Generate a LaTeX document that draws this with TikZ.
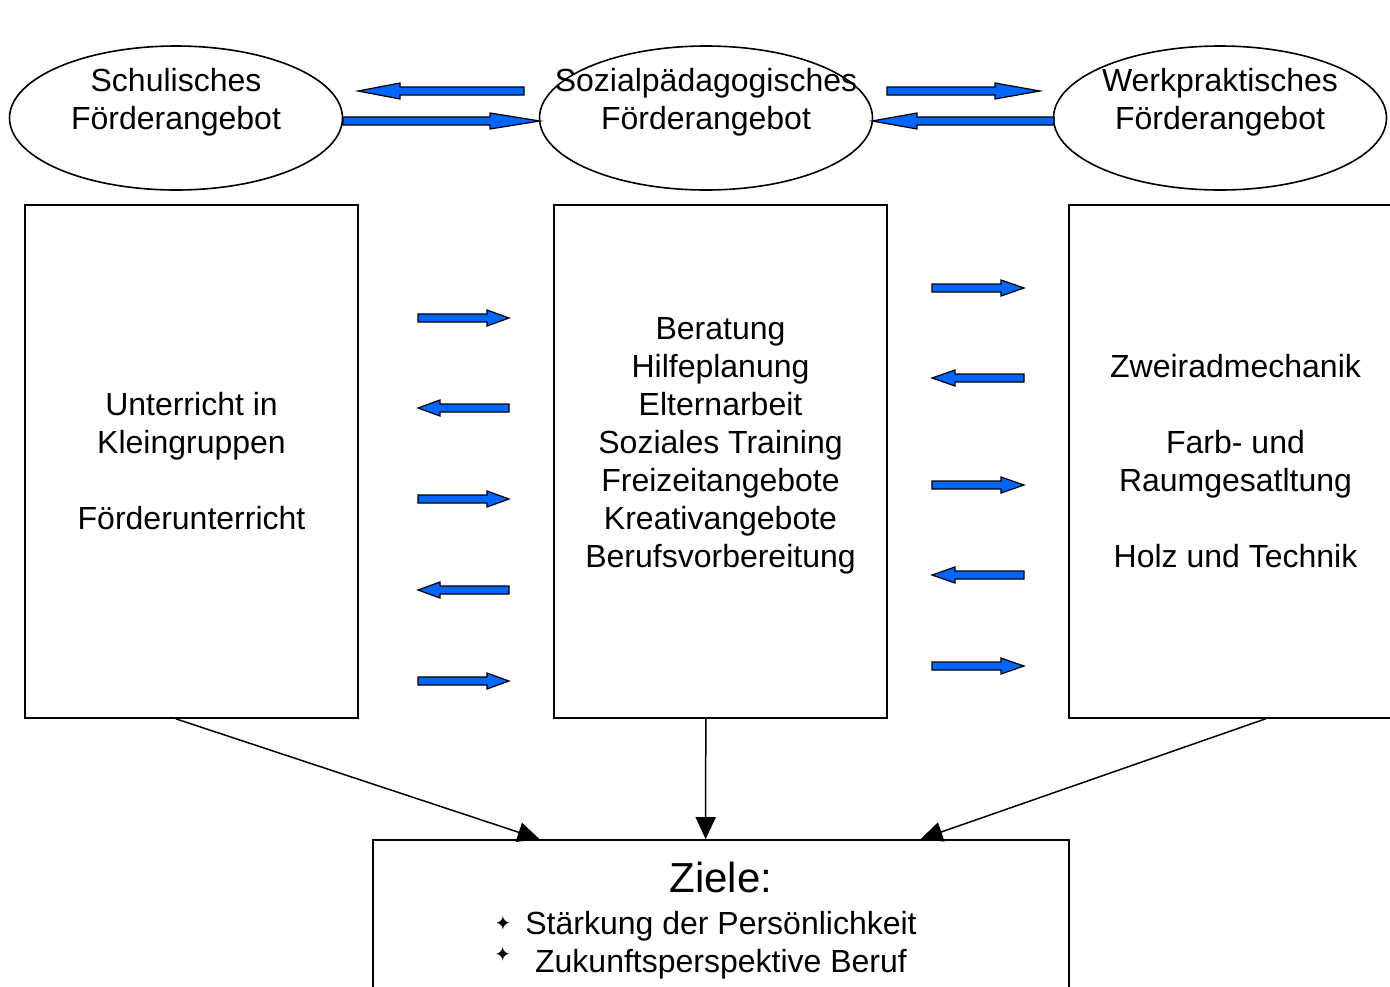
\documentclass[tikz,border=0pt]{standalone}
\usepackage{fontspec}
\setmainfont{Liberation Sans}
\newfontfamily\symfont{DejaVu Sans}
\usetikzlibrary{shapes.geometric,arrows.meta,calc}

\definecolor{arrowblue}{RGB}{0,102,255}

\newcommand{\zbul}{{\symfont\fontsize{10}{10}\selectfont ✦}}

% block arrow: tail x, tip x, y, head length, direction (+1 right, -1 left)
\newcommand{\fatarrow}[5]{%
  \filldraw[blockarrow] (#1,{#3-4}) -- ({#2-(#5)*(#4)},{#3-4}) -- ({#2-(#5)*(#4)},{#3-8})
    -- (#2,#3) -- ({#2-(#5)*(#4)},{#3+8}) -- ({#2-(#5)*(#4)},{#3+4}) -- (#1,{#3+4}) -- cycle;}

\begin{document}
\begin{tikzpicture}[
  x=0.5pt, y=-0.5pt,
  oval/.style={ellipse, draw, line width=0.8pt, minimum width=166.5pt, minimum height=72pt, inner sep=0pt},
  ovaltext/.style={align=center, inner sep=0pt, font=\fontsize{16}{19}\selectfont},
  box/.style={rectangle, draw, line width=0.8pt, minimum width=166.5pt, minimum height=256.5pt, inner sep=0pt, align=center, font=\fontsize{16}{19}\selectfont},
  blockarrow/.style={draw=black, line width=0.6pt, fill=arrowblue, line join=miter},
  arrow/.style={-{Triangle[length=11pt,width=10pt]}, line width=0.75pt},
]
\useasboundingbox (0,0) rectangle (1390,986);

% === ANGEBOTE ===
\node[oval] (schul) at (176,118) {};
\node[oval] (sozial) at (706,118) {};
\node[oval] (werk) at (1220,118) {};
\node[ovaltext] (schultxt) at (schul) {Schulisches\\Förderangebot\\\mbox{}};
\node[ovaltext] (sozialtxt) at (sozial) {Sozialpädagogisches\\Förderangebot\\\mbox{}};
\node[ovaltext] (werktxt) at (werk) {Werkpraktisches\\Förderangebot\\\mbox{}};

\node[box] (unt) at (191.5,461.5) {Unterricht in\\Kleingruppen\\\mbox{}\\Förderunterricht};
\node[box] (ber) at (720.5,461.5) {Beratung\\Hilfeplanung\\Elternarbeit\\Soziales Training\\Freizeitangebote\\Kreativangebote\\Berufsvorbereitung\\\mbox{}};
\node[box] (zwei) at (1235.5,461.5) {Zweiradmechanik\\\mbox{}\\Farb- und\\Raumgesatltung\\\mbox{}\\Holz und Technik};

\node[rectangle, draw, line width=0.8pt, minimum width=348pt, minimum height=81pt, inner sep=0pt, align=center,
      font=\fontsize{16}{19}\selectfont] (ziele) at (721,921)
  {{\fontsize{21}{24}\selectfont Ziele:}\\[2pt]
   \llap{\raisebox{2pt}{\zbul}\hspace{7pt}}Stärkung der Persönlichkeit\\
   \llap{\raisebox{5.5pt}{\zbul}\hspace{12pt}}Zukunftsperspektive Beruf};

% === BLAUE PFEILE ===
\fatarrow{524}{358}{91}{42}{-1}
\fatarrow{343}{540}{121}{50}{1}
\fatarrow{887}{1040}{91}{45}{1}
\fatarrow{1054}{872}{121}{45}{-1}

\foreach \yy/\dd in {318/1, 408/-1, 499/1, 590/-1, 681/1} {
  \pgfmathsetmacro{\tl}{463.5-\dd*45.5}
  \pgfmathsetmacro{\tp}{463.5+\dd*45.5}
  \fatarrow{\tl}{\tp}{\yy}{22}{\dd}
}
\foreach \yy/\dd in {288/1, 378/-1, 485/1, 575/-1, 666/1} {
  \pgfmathsetmacro{\tl}{978-\dd*46}
  \pgfmathsetmacro{\tp}{978+\dd*46}
  \fatarrow{\tl}{\tp}{\yy}{23}{\dd}
}

% === ZU DEN ZIELEN ===
\draw[arrow] ($(unt.south west)!0.453!(unt.south east)$) -- ($(ziele.north west)!0.24!(ziele.north east)$);
\draw[arrow] ($(ber.south west)!0.456!(ber.south east)$) -- ($(ziele.north west)!0.478!(ziele.north east)$);
\draw[arrow] ($(zwei.south west)!0.59!(zwei.south east)$) -- ($(ziele.north west)!0.786!(ziele.north east)$);
\end{tikzpicture}
\end{document}
